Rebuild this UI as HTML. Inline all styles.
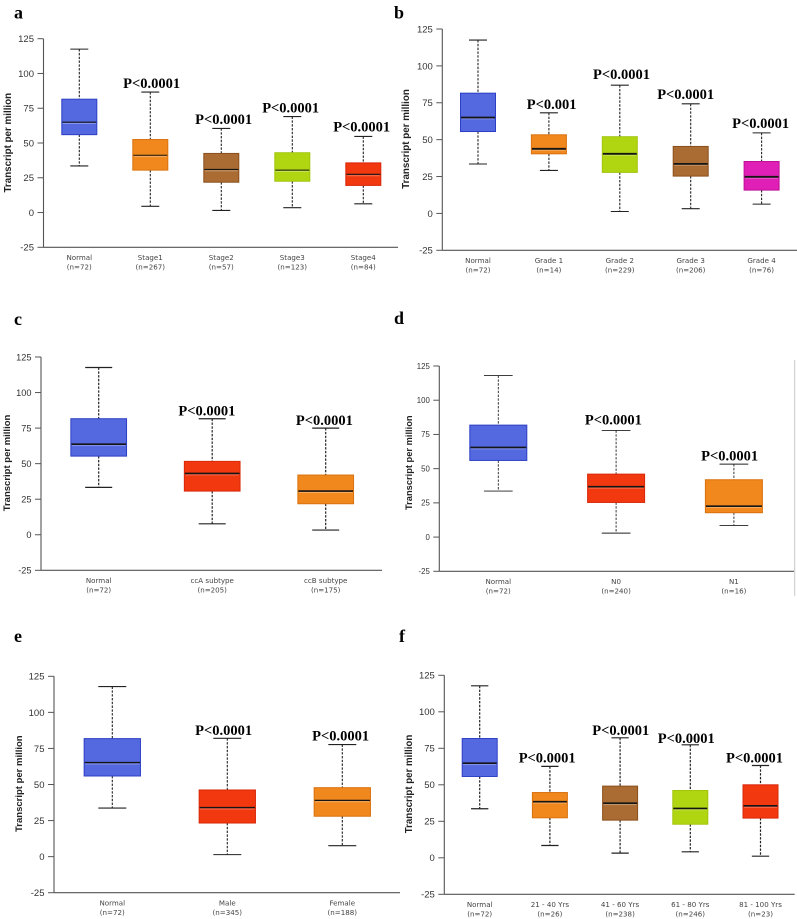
<!DOCTYPE html>
<html lang="en">
<head>
<meta charset="utf-8">
<title>Transcript per million box plots</title>
<style>
  html, body { margin: 0; padding: 0; background: #fff; }
  svg { display: block; }
  .letter { font-family: "Liberation Serif", serif; font-weight: bold; font-size: 18px; fill: #000; }
</style>
</head>
<body>
<svg id="figure" xmlns="http://www.w3.org/2000/svg" width="797" height="919" viewBox="0 0 797 919">
  <rect x="0" y="0" width="797" height="919" fill="#ffffff"/>
  <text class="letter" x="14" y="18.5">a</text>
  <text class="letter" x="394" y="18.5">b</text>
  <text class="letter" x="14" y="325">c</text>
  <text class="letter" x="394" y="324">d</text>
  <text class="letter" x="14" y="642">e</text>
  <text class="letter" x="399" y="642">f</text>
  <line x1="794.7" y1="360" x2="794.7" y2="596" stroke="#c8c8c8" stroke-width="1"/>
</svg>
<script>
// Shared axis ticks
const yTicks = [-25, 0, 25, 50, 75, 100, 125];

// Panel a: cancer stage
const aCategories = ['Normal', 'Stage1', 'Stage2', 'Stage3', 'Stage4'];
const aCounts = ['(n=72)', '(n=267)', '(n=57)', '(n=123)', '(n=84)'];
const aHigh = [117.5, 86.6, 60.5, 69, 54.7];
const aQ3 = [81.5, 52.5, 42.5, 43, 35.7];
const aMedian = [65, 41.2, 31, 30.5, 27.5];
const aQ1 = [56, 30.5, 21.8, 22.5, 19.5];
const aLow = [33.5, 4.5, 1.5, 3.5, 6.3];
const aPValues = ['', 'P<0.0001', 'P<0.0001', 'P<0.0001', 'P<0.0001'];

// Panel b: tumour grade
const bCategories = ['Normal', 'Grade 1', 'Grade 2', 'Grade 3', 'Grade 4'];
const bCounts = ['(n=72)', '(n=14)', '(n=229)', '(n=206)', '(n=76)'];
const bHigh = [117.5, 68.2, 86.9, 74.3, 54.6];
const bQ3 = [81.5, 53.3, 52, 45.4, 35.2];
const bMedian = [65, 43.8, 40.4, 33.6, 24.8];
const bQ1 = [55.5, 40.4, 27.8, 25.3, 15.8];
const bLow = [33.5, 29.1, 1.3, 3.2, 6.3];
const bPValues = ['', 'P<0.001', 'P<0.0001', 'P<0.0001', 'P<0.0001'];

// Panel c: subtype
const cCategories = ['Normal', 'ccA subtype', 'ccB subtype'];
const cCounts = ['(n=72)', '(n=205)', '(n=175)'];
const cHigh = [117.6, 81.6, 75];
const cQ3 = [81.6, 51.6, 42];
const cMedian = [63.7, 43.1, 30.7];
const cQ1 = [55.3, 30.7, 21.8];
const cLow = [33.3, 7.7, 3.3];
const cPValues = ['', 'P<0.0001', 'P<0.0001'];

// Panel d: nodal status
const dCategories = ['Normal', 'N0', 'N1'];
const dCounts = ['(n=72)', '(n=240)', '(n=16)'];
const dHigh = [118, 77.9, 53.3];
const dQ3 = [81.8, 46, 41.9];
const dMedian = [65.5, 36.8, 22.6];
const dQ1 = [56, 25.3, 17.8];
const dLow = [33.6, 2.9, 8.5];
const dPValues = ['', 'P<0.0001', 'P<0.0001'];

// Panel e: gender
const eCategories = ['Normal', 'Male', 'Female'];
const eCounts = ['(n=72)', '(n=345)', '(n=188)'];
const eHigh = [117.9, 82, 77.7];
const eQ3 = [81.8, 46.2, 47.8];
const eMedian = [65.2, 34, 39];
const eQ1 = [55.9, 23.3, 28];
const eLow = [33.7, 1.4, 7.6];
const ePValues = ['', 'P<0.0001', 'P<0.0001'];

// Panel f: age
const fCategories = ['Normal', '21 - 40 Yrs', '41 - 60 Yrs', '61 - 80 Yrs', '81 - 100 Yrs'];
const fCounts = ['(n=72)', '(n=26)', '(n=238)', '(n=246)', '(n=23)'];
const fHigh = [117.8, 62.6, 82.2, 77.4, 63.2];
const fQ3 = [81.7, 44.7, 49.1, 46.1, 50];
const fMedian = [64.8, 38.4, 37.4, 33.8, 35.6];
const fQ1 = [55.7, 27.4, 25.8, 23, 27.2];
const fLow = [33.6, 8.4, 3.2, 4.1, 1.1];
const fPValues = ['', 'P<0.0001', 'P<0.0001', 'P<0.0001', 'P<0.0001'];

// Box palette: fill, border
const palette = {
  blue: ['#5469e0', '#2c3fc4'],
  orange: ['#f0881e', '#d9720f'],
  brown: ['#aa6c32', '#8a4f1c'],
  lime: ['#b0d612', '#a2c40e'],
  red: ['#f2380f', '#d8280a'],
  magenta: ['#df1fb5', '#bf1098']
};

const panels = [
  { id: 'a', categories: aCategories, counts: aCounts, high: aHigh, q3: aQ3, median: aMedian, q1: aQ1, low: aLow, pValues: aPValues,
    colors: ['blue', 'orange', 'brown', 'lime', 'red'],
    axisX: 43.5, axisEnd: 398, top: 38.7, bottom: 247.3, first: 79.3, step: 71, boxW: 35, capW: 18,
    tickSize: 9.5, titleSize: 9.8, titleX: 11, titleY: 142.7, catSize: 7.1, medianW: 1.1, whiskerW: 1.1,
    nudgeX: [0, 1.3, 2.3, -1.6, -1.6], nudgeY: [0, 4, 4.5, 4, 5] },
  { id: 'b', categories: bCategories, counts: bCounts, high: bHigh, q3: bQ3, median: bMedian, q1: bQ1, low: bLow, pValues: bPValues,
    colors: ['blue', 'orange', 'lime', 'brown', 'magenta'],
    axisX: 442.3, axisEnd: 797, top: 29, bottom: 250.3, first: 478, step: 70.9, boxW: 35, capW: 18,
    tickSize: 9.5, titleSize: 9.8, titleX: 409, titleY: 139, catSize: 7.1, medianW: 1.8, whiskerW: 1.1,
    nudgeX: [0, 2.7, 1.7, -5, -1], nudgeY: [0, 3.7, 6, 4.7, 5] },
  { id: 'c', categories: cCategories, counts: cCounts, high: cHigh, q3: cQ3, median: cMedian, q1: cQ1, low: cLow, pValues: cPValues,
    colors: ['blue', 'red', 'orange'],
    axisX: 41, axisEnd: 382, top: 357, bottom: 570.3, first: 98.7, step: 113.5, boxW: 55.7, capW: 27,
    tickSize: 9.2, titleSize: 9.5, titleX: 10, titleY: 463, catSize: 7.1, medianW: 1.6, whiskerW: 1.2,
    nudgeX: [0, -5.3, -1.3], nudgeY: [0, 3.3, 3.3] },
  { id: 'd', categories: dCategories, counts: dCounts, high: dHigh, q3: dQ3, median: dMedian, q1: dQ1, low: dLow, pValues: dPValues,
    colors: ['blue', 'red', 'orange'],
    axisX: 439.3, axisEnd: 794, top: 366, bottom: 571.3, first: 498.3, step: 117.8, boxW: 57, capW: 28.7,
    tickSize: 7.8, titleSize: 9.3, titleX: 412, titleY: 462.7, catSize: 7.1, medianW: 1.6, whiskerW: 0.9,
    nudgeX: [0, -2.7, -4.3], nudgeY: [0, 6, 3.7] },
  { id: 'e', categories: eCategories, counts: eCounts, high: eHigh, q3: eQ3, median: eMedian, q1: eQ1, low: eLow, pValues: ePValues,
    colors: ['blue', 'red', 'orange'],
    axisX: 54, axisEnd: 400, top: 676.3, bottom: 892.7, first: 112.3, step: 115, boxW: 56.3, capW: 28,
    tickSize: 9.5, titleSize: 9.5, titleX: 22, titleY: 783.7, catSize: 7.1, medianW: 1.3, whiskerW: 1.1,
    nudgeX: [0, -3.7, -1.7], nudgeY: [0, 3.3, 4] },
  { id: 'f', categories: fCategories, counts: fCounts, high: fHigh, q3: fQ3, median: fMedian, q1: fQ1, low: fLow, pValues: fPValues,
    colors: ['blue', 'orange', 'brown', 'lime', 'red'],
    axisX: 444.3, axisEnd: 794.7, top: 675.3, bottom: 894.3, first: 479.7, step: 70.2, boxW: 35, capW: 17.3,
    tickSize: 9.5, titleSize: 9.7, titleX: 412, titleY: 784, catSize: 7.1, medianW: 1.6, whiskerW: 1.2,
    nudgeX: [0, -2.7, 0.7, -4, -6], nudgeY: [0, 3.7, 3, 2, 3] }
];

const NS = 'http://www.w3.org/2000/svg';
const figure = document.getElementById('figure');

function shape(tag, parent, props) {
  const node = document.createElementNS(NS, tag);
  for (const key in props) node.setAttribute(key, props[key]);
  parent.appendChild(node);
  return node;
}

function drawPanel(p) {
  const yScale = function (v) { return p.bottom - (v - (-25)) * (p.bottom - p.top) / 150; };
  const xScale = function (i) { return p.first + i * p.step; };

  const g = shape('g', figure, {});
  
  

  const yAxis = shape('line', g, { x1: p.axisX, y1: p.top, x2: p.axisX, y2: p.bottom, stroke: '#555', 'stroke-width': 1.1 });
  
  

  const xAxis = shape('line', g, { x1: p.axisX, y1: p.bottom, x2: p.axisEnd, y2: p.bottom, stroke: '#555', 'stroke-width': 1.1 });
  
  

  yTicks.forEach(function (t) {
    const tick = shape('line', g, { x1: p.axisX - 6, y1: yScale(t), x2: p.axisX, y2: yScale(t), stroke: '#555', 'stroke-width': 1 });
    
    

    const label = shape('text', g, { x: p.axisX - 9.5, y: yScale(t) + p.tickSize * 0.36, 'text-anchor': 'end', fill: '#333', 'font-size': p.tickSize, 'font-family': '"Liberation Sans", sans-serif' });
    label.textContent = String(t);
    
    
  });

  const title = shape('text', g, { x: p.titleX, y: p.titleY, 'text-anchor': 'middle', fill: '#222', 'font-size': p.titleSize, 'font-weight': 'bold', 'font-family': '"Liberation Sans", sans-serif', transform: 'rotate(-90 ' + p.titleX + ' ' + p.titleY + ')' });
  title.textContent = 'Transcript per million';
  
  

  p.categories.forEach(function (cat, i) {
    const cx = xScale(i);
    const fill = palette[p.colors[i]][0];
    const edge = palette[p.colors[i]][1];

    const whiskerUp = shape('line', g, { x1: cx, y1: yScale(p.high[i]), x2: cx, y2: yScale(p.q3[i]), stroke: '#222', 'stroke-width': p.whiskerW, 'stroke-dasharray': '2.4 1.4' });
    
    

    const whiskerDown = shape('line', g, { x1: cx, y1: yScale(p.q1[i]), x2: cx, y2: yScale(p.low[i]), stroke: '#222', 'stroke-width': p.whiskerW, 'stroke-dasharray': '2.4 1.4' });
    
    

    const capHigh = shape('line', g, { x1: cx - p.capW / 2, y1: yScale(p.high[i]), x2: cx + p.capW / 2, y2: yScale(p.high[i]), stroke: '#222', 'stroke-width': p.whiskerW });
    
    

    const capLow = shape('line', g, { x1: cx - p.capW / 2, y1: yScale(p.low[i]), x2: cx + p.capW / 2, y2: yScale(p.low[i]), stroke: '#222', 'stroke-width': p.whiskerW });
    
    

    const box = shape('rect', g, { x: cx - p.boxW / 2, y: yScale(p.q3[i]), width: p.boxW, height: yScale(p.q1[i]) - yScale(p.q3[i]), fill: fill, stroke: edge, 'stroke-width': 1 });
    
    

    const glow = shape('line', g, { x1: cx - p.boxW / 2 + 1, y1: yScale(p.median[i]) + 1.4, x2: cx + p.boxW / 2 - 1, y2: yScale(p.median[i]) + 1.4, stroke: '#ffffff', 'stroke-opacity': 0.3, 'stroke-width': 1 });
    
    

    const median = shape('line', g, { x1: cx - p.boxW / 2 + 0.5, y1: yScale(p.median[i]), x2: cx + p.boxW / 2 - 0.5, y2: yScale(p.median[i]), stroke: '#151515', 'stroke-width': p.medianW });
    
    

    const catLabel = shape('text', g, { x: cx, y: p.bottom + 12.7, 'text-anchor': 'middle', fill: '#444', 'font-size': p.catSize, 'font-family': '"DejaVu Sans", sans-serif' });
    catLabel.textContent = cat;
    
    

    const countLabel = shape('text', g, { x: cx, y: p.bottom + 22.2, 'text-anchor': 'middle', fill: '#444', 'font-size': p.catSize, 'font-family': '"DejaVu Sans", sans-serif' });
    countLabel.textContent = p.counts[i];
    
    

    if (p.pValues[i]) {
      const pLabel = shape('text', g, { x: cx + p.nudgeX[i], y: yScale(p.high[i]) - p.nudgeY[i], 'text-anchor': 'middle', fill: '#000', 'font-size': 14.5, 'font-weight': 'bold', 'font-family': '"Liberation Serif", serif' });
      pLabel.textContent = p.pValues[i];
      
      
    }
  });
}

panels.forEach(drawPanel);
</script>
</body>
</html>
